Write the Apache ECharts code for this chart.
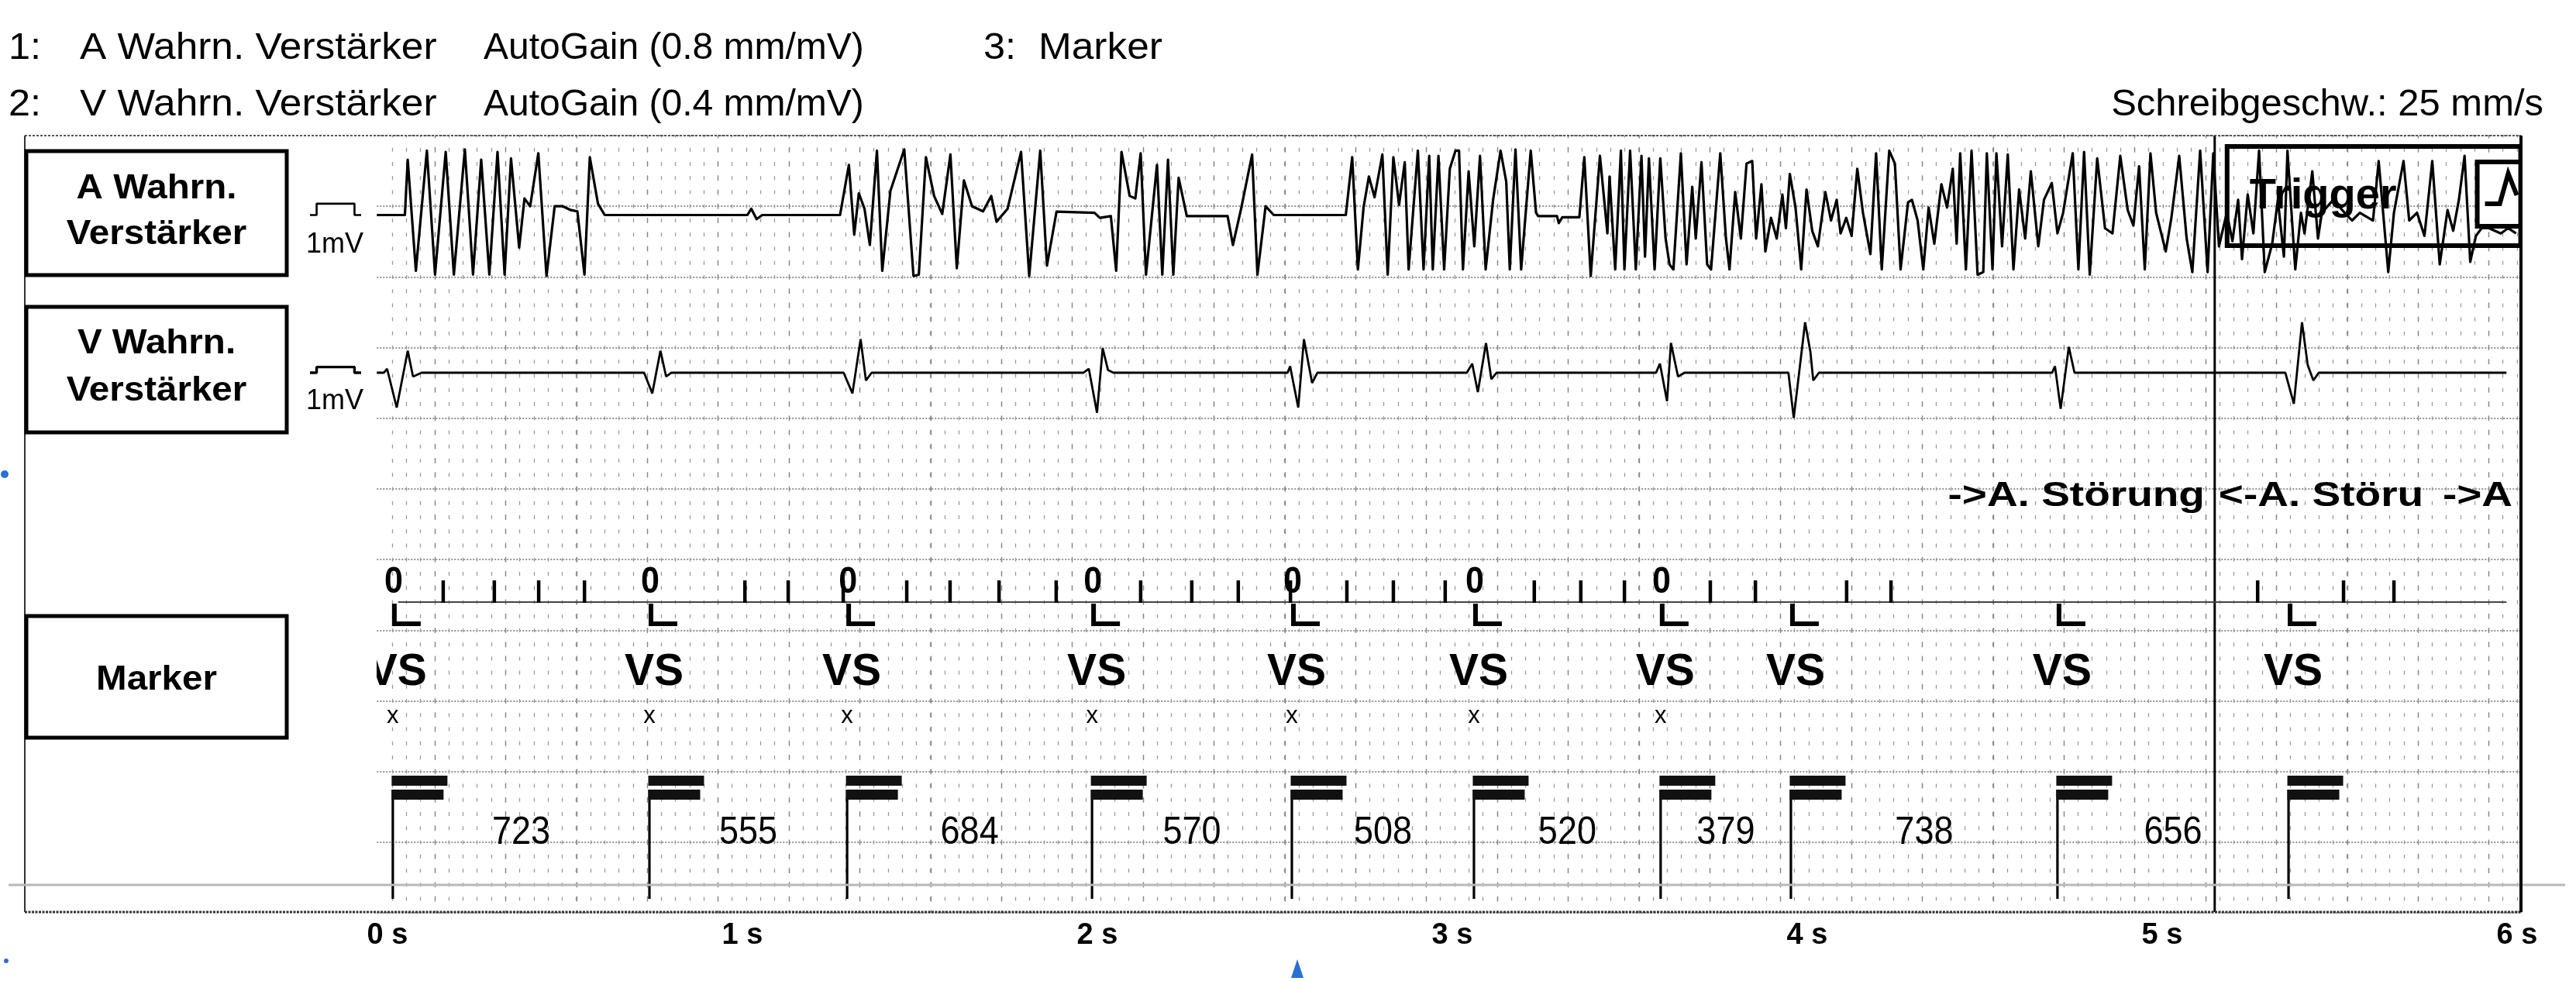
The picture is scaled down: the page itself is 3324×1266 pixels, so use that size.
<!DOCTYPE html>
<html><head><meta charset="utf-8">
<script src="https://cdn.jsdelivr.net/npm/echarts@6/dist/echarts.min.js"></script>
<style>html,body{margin:0;padding:0;background:#fff}#c{width:3324px;height:1266px}</style>
</head><body><div id="c"></div>
<script>
const timeAxisLabels = ['0 s','1 s','2 s','3 s','4 s','5 s','6 s'];
// ventricular sense events (s)
const vsTimes = [0.015, 0.738, 1.295, 1.985, 2.548, 3.061, 3.587, 3.954, 4.705, 5.356];
// "0" marks and "x" marks on the marker channel (s)
const zeroMarkTimes = [0.015, 0.738, 1.295, 1.985, 2.548, 3.061, 3.587];
const crossMarkTimes = [0.015, 0.738, 1.295, 1.985, 2.548, 3.061, 3.587];
// atrial sense ticks on the marker line (s)
const atrialTickTimes = [0.157, 0.301, 0.426, 0.555, 1.007, 1.129, 1.284, 1.463, 1.585, 1.723, 1.884,
  2.122, 2.266, 2.397, 2.544, 2.703, 2.834, 2.980, 3.231, 3.362, 3.485, 3.727, 3.854, 4.111, 4.236,
  5.269, 5.511, 5.653];
// V-V intervals (ms)
const intervalsMs = [723, 555, 684, 570, 508, 520, 379, 738, 656];
// marker line extent (s)
const markerLineSpan = [0.03, 5.97];
// annotations
const annotationTexts = ['->A. Störung', '<-A. Störu', '->A'];
const annotationTimes = [5.120, 5.159, 5.987];
const triggerTime = 5.148;
// calibration pulses (x fraction, mV)
const calibPulse = [[0, 0], [0.13, 0], [0.13, 1], [0.87, 1], [0.87, 0], [1, 0]];
// A channel (atrial sensing amplifier) [s, mV]
const aTrace = [
[-0.03,0],[0.049,0],
[0.057,4.87],[0.080,-4.92],[0.111,5.67],[0.134,-5.26],[0.164,5.56],[0.187,-5.26],[0.218,5.78],[0.241,-5.26],[0.264,4.87],[0.287,-5.26],[0.310,5.56],[0.330,-5.26],[0.348,4.99],[0.371,-2.87],[0.386,1.46],[0.402,0.77],[0.425,5.44],[0.448,-5.38],[0.471,0.77],[0.494,0.77],[0.517,0.43],[0.535,0.32],[0.555,-5.26],[0.570,5.10],[0.593,1.0],[0.612,0],
[1.014,0],[1.025,0.55],[1.040,-0.36],[1.056,0],
[1.275,0],[1.300,4.42],[1.315,-1.73],[1.328,1.91],[1.344,0.55],[1.359,-2.64],[1.379,5.67],[1.394,-4.92],[1.417,2.14],[1.456,5.78],[1.482,-5.38],[1.497,-5.26],[1.517,5.10],[1.540,1.68],[1.563,0.09],[1.586,5.33],[1.604,-4.69],[1.624,3.05],[1.647,0.77],[1.678,0.32],[1.701,1.68],[1.716,-0.59],[1.747,0.55],[1.785,5.56],[1.808,-5.38],[1.839,5.67],[1.858,-4.46],[1.885,0.3],
[1.992,0.2],[2.007,-0.25],[2.038,-0.1],[2.053,-4.92],[2.068,5.56],[2.091,1.68],[2.107,1.46],[2.122,5.44],[2.137,-5.26],[2.168,4.42],[2.183,-5.26],[2.199,4.87],[2.214,-5.26],[2.229,3.28],[2.252,-0.1],
[2.367,-0.1],[2.382,-2.64],[2.405,0.55],[2.436,5.33],[2.451,-5.26],[2.474,0.77],[2.497,0],
[2.700,0],[2.718,5.10],[2.734,-4.80],[2.750,0.66],[2.765,3.39],[2.781,1.57],[2.803,5.33],[2.818,-5.26],[2.834,5.10],[2.850,0.89],[2.866,4.65],[2.877,-4.80],[2.903,5.67],[2.919,-4.80],[2.935,5.21],[2.945,-4.80],[2.961,5.21],[2.977,-4.80],[2.993,4.08],[3.009,5.67],[3.019,5.67],[3.030,-4.80],[3.046,3.85],[3.062,-2.76],[3.078,5.21],[3.094,-4.80],[3.115,1.34],[3.136,5.67],[3.152,2.94],[3.162,-4.80],[3.178,5.78],[3.194,-4.80],[3.221,5.67],[3.236,0.20],[3.242,-0.1],
[3.295,-0.1],[3.300,-0.71],[3.310,-0.2],[3.358,-0.2],
[3.372,5.10],[3.390,-5.37],[3.416,5.21],[3.437,-1.62],[3.443,3.39],[3.459,-4.80],[3.475,5.67],[3.485,-4.80],[3.501,5.67],[3.517,-4.80],[3.533,5.21],[3.543,-3.67],[3.554,4.99],[3.570,-4.80],[3.586,4.99],[3.601,-2.07],[3.612,-4.35],[3.623,-4.80],[3.644,5.44],[3.660,-4.35],[3.676,2.48],[3.686,-2.07],[3.702,4.65],[3.718,-4.35],[3.729,-4.80],[3.755,5.44],[3.771,-2.07],[3.781,-4.80],[3.797,2.03],[3.813,-2.07],[3.829,4.53],[3.845,4.76],[3.856,-2.07],[3.871,2.71],[3.882,-3.21],[3.898,-0.25],[3.914,-2.07],[3.930,1.80],[3.940,-1.16],[3.951,3.62],[3.967,0.66],[3.983,-4.80],[3.998,2.25],[4.014,-1.39],[4.030,-2.76],[4.051,2.03],[4.067,-0.48],[4.083,1.34],[4.094,-1.62],[4.110,-0.25],[4.125,-1.84],[4.141,4.08],[4.157,0.20],[4.178,-3.44],[4.194,5.44],[4.210,-4.80],[4.231,5.67],[4.247,4.53],[4.263,-4.80],[4.284,1.12],[4.295,1.34],[4.311,-0.48],[4.327,-4.80],[4.342,0.66],[4.358,-2.53],
[4.378,2.71],[4.394,0.66],[4.410,4.08],[4.421,-2.53],[4.431,5.44],[4.447,-4.80],[4.463,5.67],[4.480,-5.26],[4.496,-5.03],[4.506,5.44],[4.522,-4.80],[4.533,5.44],[4.549,-2.76],[4.565,5.33],[4.581,-4.80],[4.597,2.25],[4.614,-2.07],[4.630,3.85],[4.651,-2.76],[4.667,1.34],[4.689,2.82],[4.705,-1.62],[4.721,0.20],[4.748,5.44],[4.764,-4.80],[4.780,5.56],[4.796,-5.26],[4.817,4.99],[4.839,-1.16],[4.860,-1.62],[4.882,5.21],[4.903,0.43],[4.919,-0.93],[4.935,4.30],[4.951,-4.80],[4.967,5.44],[4.983,0.20],[5.010,-3.21],[5.026,-0.25],[5.048,5.21],[5.069,-2.07],[5.085,-5.03],[5.107,5.67],[5.128,-5.03],[5.144,5.44],[5.160,-2.76],[5.182,0.20],[5.198,-2.30],[5.214,1.34],[5.225,-3.89],[5.241,1.80],[5.257,-1.62],[5.273,5.67],[5.289,-5.03],[5.310,-2.53],[5.326,1.34],[5.343,-3.67],[5.353,5.67],[5.375,-4.80],[5.391,0.20],[5.401,-1.62],[5.423,3.85],[5.439,-2.07],[5.450,0.20],[5.482,1.34],[5.514,0.20],[5.535,-0.48],[5.557,0.20],[5.594,-0.48],[5.610,4.76],[5.637,-5.03],[5.653,0.20],[5.680,4.76],[5.696,-0.48],[5.718,0.20],[5.739,-1.84],[5.761,4.76],[5.782,-4.35],[5.804,0.43],[5.820,-1.39],[5.836,1.34],[5.852,5.21],[5.868,-4.12],[5.884,-1.84],[5.900,-1.16],[5.921,-1.16],[5.954,-1.62],[5.975,-1.16],[5.997,-1.62]
];
// V channel (ventricular sensing amplifier) [s, mV]
const vTrace = [
[-0.03,0],[-0.010,0],[-0.001,0.68],[0.026,-6.15],[0.057,3.87],[0.072,-0.68],[0.096,0],
[0.723,0],[0.746,-3.64],[0.769,3.87],[0.785,-0.68],[0.800,0],
[1.285,0],[1.310,-3.64],[1.333,5.92],[1.348,-1.37],[1.364,0],
[1.961,0],[1.976,0.68],[1.999,-7.06],[2.015,4.33],[2.030,0.46],[2.045,0],
[2.536,0],[2.543,1.14],[2.566,-6.15],[2.582,5.92],[2.605,-1.82],[2.620,0],
[3.041,0],[3.056,1.59],[3.072,-3.42],[3.095,5.24],[3.110,-1.14],[3.125,0],
[3.574,0],[3.585,1.59],[3.605,-5.01],[3.616,5.24],[3.636,-0.68],[3.654,0],
[3.947,0],[3.962,-7.97],[3.994,8.88],[4.009,3.64],[4.017,-1.37],[4.033,0],
[4.690,0],[4.698,1.14],[4.714,-6.38],[4.737,4.56],[4.753,0],
[5.347,0],[5.371,-5.47],[5.394,8.88],[5.410,1.37],[5.426,-1.37],[5.441,0],
[5.970,0]
];

// ================= LAYOUT / STYLE =================
const FONT = '"Liberation Sans", Arial, sans-serif';
const PX_PER_S = 458, T0_X = 500;
const T_MIN = -0.03, T_MAX = 6.01;
const PLOT_L = T0_X + T_MIN * PX_PER_S;
const PLOT_W = (T_MAX - T_MIN) * PX_PER_S;
const TOP = 175, BOTTOM = 1177, RIGHT_X = 3253;

function txt(text, x, y, size, opts) {
  opts = opts || {};
  return {
    type: 'text', x: x, y: y, scaleX: opts.sx || 1, z: 10,
    style: { text: text, x: 0, y: 0, font: (opts.bold ? 'bold ' : '') + size + 'px ' + FONT,
      fill: opts.color || '#000', textAlign: opts.align || 'left', textVerticalAlign: 'middle' }
  };
}
function gline(x1, y1, x2, y2, w, color, dash) {
  return { type: 'line', z: 5, shape: { x1, y1, x2, y2 },
    style: { stroke: color || '#000', lineWidth: w, lineDash: dash || null } };
}
function grect(x, y, w, h, lw) {
  return { type: 'rect', z: 5, shape: { x, y, width: w, height: h },
    style: { stroke: '#000', lineWidth: lw, fill: '#fff' } };
}

const graphicEls = [
  // header
  txt('1:', 11, 63, 48, {sx:1.05}), txt('A Wahrn. Verstärker', 103, 63, 48, {sx:1.07}),
  txt('AutoGain (0.8 mm/mV)', 624, 63, 48, {sx:1.0}), txt('3:', 1269, 63, 48, {sx:1.05}),
  txt('Marker', 1340, 63, 48, {sx:1.07}),
  txt('2:', 11, 136, 48, {sx:1.05}), txt('V Wahrn. Verstärker', 103, 136, 48, {sx:1.07}),
  txt('AutoGain (0.4 mm/mV)', 624, 136, 48, {sx:1.0}),
  txt('Schreibgeschw.: 25 mm/s', 3282, 136, 48, {sx:1.02, align:'right'}),
  // frame
  gline(32, TOP, RIGHT_X, TOP, 2, '#555', [3, 2]),
  gline(32, TOP, 32, BOTTOM, 2, '#333'),
  gline(11, 1142, 3310, 1142, 3, '#b8b8b8'),
  gline(32, BOTTOM, RIGHT_X, BOTTOM, 3, '#333', [3, 1.5]),
  gline(RIGHT_X, TOP, RIGHT_X, BOTTOM, 4, '#000'),
  // channel label boxes
  grect(34, 195, 336, 160, 5), grect(34, 396, 336, 162, 5), grect(34, 795, 336, 157, 5),
  txt('A Wahrn.', 202, 244, 44, {bold:true, align:'center', sx:1.08}),
  txt('Verstärker', 202, 303, 44, {bold:true, align:'center', sx:1.08}),
  txt('V Wahrn.', 202, 444, 44, {bold:true, align:'center', sx:1.08}),
  txt('Verstärker', 202, 505, 44, {bold:true, align:'center', sx:1.08}),
  txt('Marker', 202, 878, 44, {bold:true, align:'center', sx:1.08}),
  txt('1mV', 432, 316, 36, {align:'center'}),
  txt('1mV', 432, 518, 36, {align:'center'}),
  // scan artefacts (blue)
  { type: 'circle', z: 5, shape: { cx: 6, cy: 612, r: 5 }, style: { fill: '#2a6fd6' } },
  { type: 'polygon', z: 5, shape: { points: [[1666, 1262], [1674, 1238], [1682, 1262]] }, style: { fill: '#2a6fd6' } },
  { type: 'circle', z: 5, shape: { cx: 8, cy: 1240, r: 3 }, style: { fill: '#2a6fd6' } }
];

function xAt(api, t) { return api.coord([t, 0])[0]; }
const hidden = { show: false };
function hiddenAxis(gi, min, max, extra) {
  return Object.assign({ gridIndex: gi, type: 'value', min: min, max: max, show: false }, extra || {});
}

const option = {
  animation: false,
  backgroundColor: '#fff',
  grid: [
    { left: PLOT_L, top: TOP, width: RIGHT_X - PLOT_L, height: 1003 },      // 0 horizontal dotted
    { left: 506, top: TOP, width: RIGHT_X - 506, height: 1003 },            // 1 minor columns
    { left: 561, top: TOP, width: RIGHT_X - 561, height: 1003 },            // 2 major columns
    { left: PLOT_L, top: TOP, width: PLOT_W, height: 183 },                 // 3 A channel
    { left: PLOT_L, top: 358, width: PLOT_W, height: 183 },                 // 4 V channel
    { left: PLOT_L, top: TOP, width: PLOT_W, height: BOTTOM - TOP },        // 5 markers
    { left: T0_X, top: 1100, width: 6 * PX_PER_S, height: BOTTOM - 1100 },  // 6 time axis
    { left: 400, top: TOP, width: 66, height: 183 },                        // 7 cal A
    { left: 400, top: 358, width: 66, height: 183 }                         // 8 cal V
  ],
  xAxis: [
    { gridIndex: 0, type: 'value', min: 0, max: 1, axisLine: hidden, axisTick: hidden, axisLabel: hidden, splitLine: hidden },
    { gridIndex: 1, type: 'value', min: 0, max: (RIGHT_X - 506) / 18.28, interval: 1,
      axisLine: hidden, axisTick: hidden, axisLabel: hidden,
      splitLine: { show: true, lineStyle: { color: '#9a9a9a', width: 1.3, type: [5, 13.24], dashOffset: 2.5 } } },
    { gridIndex: 2, type: 'value', min: 0, max: (RIGHT_X - 561) / 91.4, interval: 1,
      axisLine: hidden, axisTick: hidden, axisLabel: hidden,
      splitLine: { show: true, lineStyle: { color: '#888', width: 1.3, type: [7, 11.24], dashOffset: 3.5 } } },
    hiddenAxis(3, T_MIN, T_MAX), hiddenAxis(4, T_MIN, T_MAX), hiddenAxis(5, T_MIN, T_MAX),
    { gridIndex: 6, type: 'value', min: 0, max: 6, interval: 1,
      axisLine: hidden, axisTick: hidden, splitLine: hidden,
      axisLabel: { show: true, margin: 12, color: '#000', fontSize: 38, fontWeight: 'bold', fontFamily: FONT,
        formatter: v => timeAxisLabels[Math.round(v)] } },
    hiddenAxis(7, 0, 1), hiddenAxis(8, 0, 1)
  ],
  yAxis: [
    { gridIndex: 0, type: 'value', min: 0, max: 11, interval: 1, axisLine: hidden, axisTick: hidden, axisLabel: hidden,
      splitLine: { show: true, lineStyle: { color: '#7a7a7a', width: 1.6, type: [2, 2] } } },
    hiddenAxis(1, 0, 1), hiddenAxis(2, 0, 1),
    hiddenAxis(3, -5.5, 7), hiddenAxis(4, -8.2, 16.8), hiddenAxis(5, 0, 1), hiddenAxis(6, 0, 1),
    hiddenAxis(7, -5.5, 7), hiddenAxis(8, -8.2, 16.8)
  ],
  graphic: { elements: graphicEls },
  series: [
    // trigger line + box (under traces)
    { type: 'custom', xAxisIndex: 5, yAxisIndex: 5, z: 1, clip: true, data: [[triggerTime, 0]],
      renderItem: function (params, api) {
        const x = xAt(api, api.value(0));
        const cs = params.coordSys;
        const right = cs.x + cs.width;
        return { type: 'group', children: [
          { type: 'line', shape: { x1: x, y1: cs.y, x2: x, y2: cs.y + cs.height }, style: { stroke: '#000', lineWidth: 3 } },
          { type: 'rect', shape: { x: x + 16, y: 189, width: right - x - 16, height: 128 }, style: { stroke: '#000', lineWidth: 6, fill: 'none' } },
          { type: 'text', style: { text: 'Trigger', x: x + 45, y: 254, font: 'bold 56px ' + FONT, fill: '#000', textAlign: 'left', textVerticalAlign: 'middle' } }
        ] };
      } },
    // A trace
    { type: 'line', xAxisIndex: 3, yAxisIndex: 3, z: 3, data: aTrace, showSymbol: false, symbol: 'none',
      lineStyle: { color: '#000', width: 3.2, join: 'round' }, clip: false },
    // V trace
    { type: 'line', xAxisIndex: 4, yAxisIndex: 4, z: 3, data: vTrace, showSymbol: false, symbol: 'none',
      lineStyle: { color: '#000', width: 2.8 }, clip: false },
    // calibration
    { type: 'line', xAxisIndex: 7, yAxisIndex: 7, z: 3, data: calibPulse, showSymbol: false, symbol: 'none',
      lineStyle: { color: '#000', width: 2.6 } },
    { type: 'line', xAxisIndex: 8, yAxisIndex: 8, z: 3, data: calibPulse, showSymbol: false, symbol: 'none',
      lineStyle: { color: '#000', width: 3.4 } },
    // small trigger symbol box (above trace)
    { type: 'custom', xAxisIndex: 5, yAxisIndex: 5, z: 4, clip: true, data: [[triggerTime, 0]],
      renderItem: function (params, api) {
        const cs = params.coordSys;
        const right = cs.x + cs.width;
        return { type: 'group', children: [
          { type: 'rect', shape: { x: right - 56, y: 209, width: 56, height: 83 }, style: { stroke: '#000', lineWidth: 6, fill: '#fff' } },
          { type: 'polyline', shape: { points: [[right - 46, 263], [right - 27, 263], [right - 16, 224], [right - 5, 252]] },
            style: { stroke: '#000', lineWidth: 6, fill: 'none' } }
        ] };
      } },
    // marker line
    { type: 'custom', xAxisIndex: 5, yAxisIndex: 5, z: 3, clip: true, data: [[markerLineSpan[0], 0, markerLineSpan[1]]],
      renderItem: function (params, api) {
        return { type: 'line', shape: { x1: xAt(api, api.value(0)), y1: 777, x2: xAt(api, api.value(2)), y2: 777 },
          style: { stroke: '#444', lineWidth: 2.2 } };
      } },
    // atrial ticks
    { type: 'custom', xAxisIndex: 5, yAxisIndex: 5, z: 4, clip: true, data: atrialTickTimes.map(t => [t, 0]),
      renderItem: function (params, api) {
        const x = xAt(api, api.value(0));
        return { type: 'line', shape: { x1: x, y1: 749, x2: x, y2: 778 }, style: { stroke: '#000', lineWidth: 4.5 } };
      } },
    // "0" marks
    { type: 'custom', xAxisIndex: 5, yAxisIndex: 5, z: 4, clip: true, data: zeroMarkTimes.map(t => [t, 0]),
      renderItem: function (params, api) {
        const x = xAt(api, api.value(0));
        return { type: 'text', x: x + 1, y: 752, scaleY: 1.1,
          style: { text: '0', x: 0, y: 0, font: 'bold 43px ' + FONT, fill: '#000', textAlign: 'center', textVerticalAlign: 'middle' } };
      } },
    // "x" marks
    { type: 'custom', xAxisIndex: 5, yAxisIndex: 5, z: 4, clip: true, data: crossMarkTimes.map(t => [t, 0]),
      renderItem: function (params, api) {
        const x = xAt(api, api.value(0));
        return { type: 'text', style: { text: 'x', x: x, y: 924, font: '31px ' + FONT, fill: '#000', textAlign: 'center', textVerticalAlign: 'middle' } };
      } },
    // VS events: label, L mark, double-bar marker
    { type: 'custom', xAxisIndex: 5, yAxisIndex: 5, z: 4, clip: true, data: vsTimes.map(t => [t, 0]),
      renderItem: function (params, api) {
        const x = xAt(api, api.value(0));
        return { type: 'group', children: [
          { type: 'text', style: { text: 'VS', x: x + 6, y: 868, font: 'bold 57px ' + FONT, fill: '#000', textAlign: 'center', textVerticalAlign: 'middle' } },
          { type: 'polyline', shape: { points: [[x + 2, 779], [x + 2, 805], [x + 36, 805]] }, style: { stroke: '#000', lineWidth: 6, fill: 'none' } },
          { type: 'line', shape: { x1: x, y1: 1019, x2: x, y2: 1160 }, style: { stroke: '#000', lineWidth: 3.2 } },
          { type: 'rect', shape: { x: x - 1.5, y: 1001, width: 72, height: 13 }, style: { fill: '#111' } },
          { type: 'rect', shape: { x: x - 1.5, y: 1019, width: 67, height: 13 }, style: { fill: '#111' } }
        ] };
      } },
    // V-V interval numbers
    { type: 'custom', xAxisIndex: 5, yAxisIndex: 5, z: 4, clip: true,
      data: intervalsMs.map((ms, i) => [(vsTimes[i] + vsTimes[i + 1]) / 2, 0, ms]),
      renderItem: function (params, api) {
        const x = xAt(api, api.value(0));
        return { type: 'text', x: x, y: 1075, scaleY: 1.1,
          style: { text: String(api.value(2)), x: 0, y: 0, font: '45px ' + FONT, fill: '#000', textAlign: 'center', textVerticalAlign: 'middle' } };
      } },
    // annotations
    { type: 'custom', xAxisIndex: 5, yAxisIndex: 5, z: 4, clip: true,
      data: annotationTimes.map((t, i) => [t, 0, i]),
      renderItem: function (params, api) {
        const x = xAt(api, api.value(0));
        const i = api.value(2);
        return { type: 'text', x: x, y: 641, scaleX: 1.25,
          style: { text: annotationTexts[i], x: 0, y: 0, font: 'bold 44px ' + FONT, fill: '#000',
            textAlign: i === 1 ? 'left' : 'right', textVerticalAlign: 'middle' } };
      } }
  ]
};

const chart = echarts.init(document.getElementById('c'), null, { renderer: 'canvas' });
chart.setOption(option);
</script>
</body></html>
